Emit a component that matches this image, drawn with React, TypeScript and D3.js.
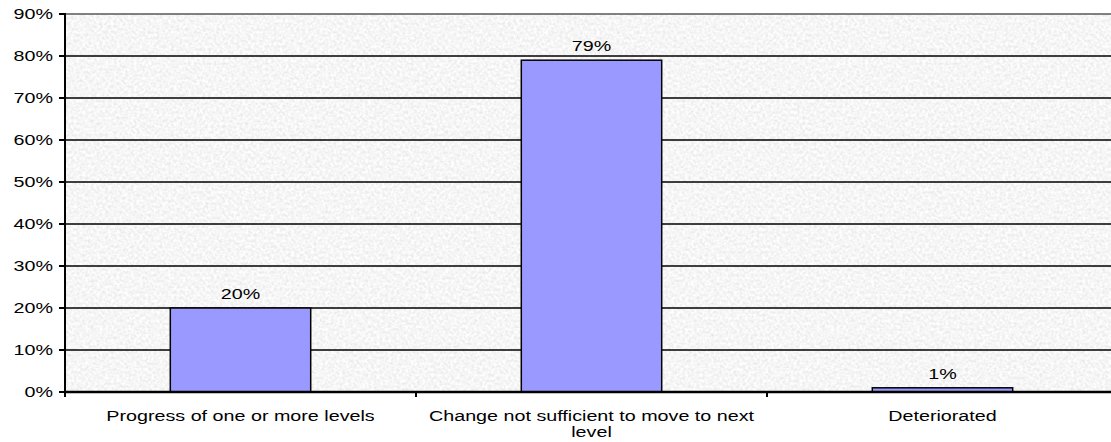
import { useEffect, useRef } from "react";
import * as d3 from "d3";

const categories = [
  "Progress of one or more levels",
  "Change not sufficient to move to next\nlevel",
  "Deteriorated",
];
const values = [20, 79, 1];
const yTicks = [0, 10, 20, 30, 40, 50, 60, 70, 80, 90];

const W = 1111;
const H = 442;
const SX = 1.36; // the reference text is stretched horizontally

export default function App() {
  const ref = useRef<SVGSVGElement | null>(null);

  useEffect(() => {
    const el = ref.current;
    if (!el) return;
    const svg = d3.select(el);
    svg.selectAll("*").remove();

    const left = 65;
    const right = 1118;
    const top = 14;
    const bottom = 392;

    const x = d3
      .scaleBand<string>()
      .domain(categories)
      .range([left, right])
      .paddingInner(0.6)
      .paddingOuter(0.3);
    const y = d3.scaleLinear().domain([0, 90]).range([bottom, top]);

    // granite-ish background
    const defs = svg.append("defs");
    const f = defs
      .append("filter")
      .attr("id", "granite")
      .attr("x", 0)
      .attr("y", 0)
      .attr("width", "100%")
      .attr("height", "100%");
    f.append("feTurbulence")
      .attr("type", "fractalNoise")
      .attr("baseFrequency", 0.35)
      .attr("numOctaves", 3)
      .attr("seed", 7);
    f.append("feColorMatrix")
      .attr("type", "matrix")
      .attr(
        "values",
        "0.32 0 0 0 0.76  0.32 0 0 0 0.76  0.32 0 0 0 0.76  0 0 0 0 1"
      );

    svg
      .append("rect")
      .attr("x", left)
      .attr("y", top)
      .attr("width", W - left)
      .attr("height", bottom - top)
      .attr("filter", "url(#granite)");

    // gridlines
    svg
      .append("g")
      .selectAll("line")
      .data(yTicks.filter((t) => t > 0))
      .join("line")
      .attr("x1", left)
      .attr("x2", W)
      .attr("y1", (d) => y(d))
      .attr("y2", (d) => y(d))
      .attr("stroke", (d) => (d === 90 ? "#808080" : "#000"))
      .attr("stroke-width", (d) => (d === 90 ? 2 : 1.3));

    // bars
    svg
      .append("g")
      .selectAll("rect")
      .data(values)
      .join("rect")
      .attr("x", (_, i) => x(categories[i])!)
      .attr("y", (d) => y(d))
      .attr("width", x.bandwidth())
      .attr("height", (d) => bottom - y(d))
      .attr("fill", "#9999FF")
      .attr("stroke", "#000")
      .attr("stroke-width", 1.5);

    const font = "'Liberation Sans', Arial, sans-serif";

    // value labels
    svg
      .append("g")
      .selectAll("text")
      .data(values)
      .join("text")
      .attr(
        "transform",
        (d, i) =>
          `translate(${x(categories[i])! + x.bandwidth() / 2},${y(d) - 9}) scale(${SX},1)`
      )
      .attr("text-anchor", "middle")
      .attr("font-family", font)
      .attr("font-size", 14.5)
      .attr("fill", "#000")
      .text((d) => `${d}%`);

    // left axis
    svg
      .append("line")
      .attr("x1", left)
      .attr("x2", left)
      .attr("y1", top - 1)
      .attr("y2", bottom + 5)
      .attr("stroke", "#000")
      .attr("stroke-width", 2);
    const ya = svg.append("g");
    ya.selectAll("line")
      .data(yTicks)
      .join("line")
      .attr("x1", left - 6)
      .attr("x2", left)
      .attr("y1", (d) => y(d))
      .attr("y2", (d) => y(d))
      .attr("stroke", "#000")
      .attr("stroke-width", 2);
    ya.selectAll("text")
      .data(yTicks)
      .join("text")
      .attr("transform", (d) => `translate(53,${y(d) + 5}) scale(${SX},1)`)
      .attr("text-anchor", "end")
      .attr("font-family", font)
      .attr("font-size", 14.5)
      .attr("fill", "#000")
      .text((d) => `${d}%`);

    // bottom axis
    svg
      .append("line")
      .attr("x1", left)
      .attr("x2", W)
      .attr("y1", bottom)
      .attr("y2", bottom)
      .attr("stroke", "#000")
      .attr("stroke-width", 2.5);
    const step = x.step();
    svg
      .append("g")
      .selectAll("line")
      .data(d3.range(categories.length))
      .join("line")
      .attr("x1", (i) => left + i * step)
      .attr("x2", (i) => left + i * step)
      .attr("y1", bottom)
      .attr("y2", bottom + 5)
      .attr("stroke", "#000")
      .attr("stroke-width", 2);

    // category labels
    const cl = svg
      .append("g")
      .selectAll("text")
      .data(categories)
      .join("text")
      .attr(
        "transform",
        (d) => `translate(${x(d)! + x.bandwidth() / 2},421) scale(${SX},1)`
      )
      .attr("text-anchor", "middle")
      .attr("font-family", font)
      .attr("font-size", 14.5)
      .attr("fill", "#000");
    cl.selectAll("tspan")
      .data((d) => d.split("\n"))
      .join("tspan")
      .attr("x", 0)
      .attr("dy", (_, i) => (i === 0 ? 0 : 16))
      .text((d) => d);
  }, []);

  return (
    <svg
      ref={ref}
      width={W}
      height={H}
      style={{ position: "absolute", left: 0, top: 0, background: "#fff" }}
    />
  );
}
